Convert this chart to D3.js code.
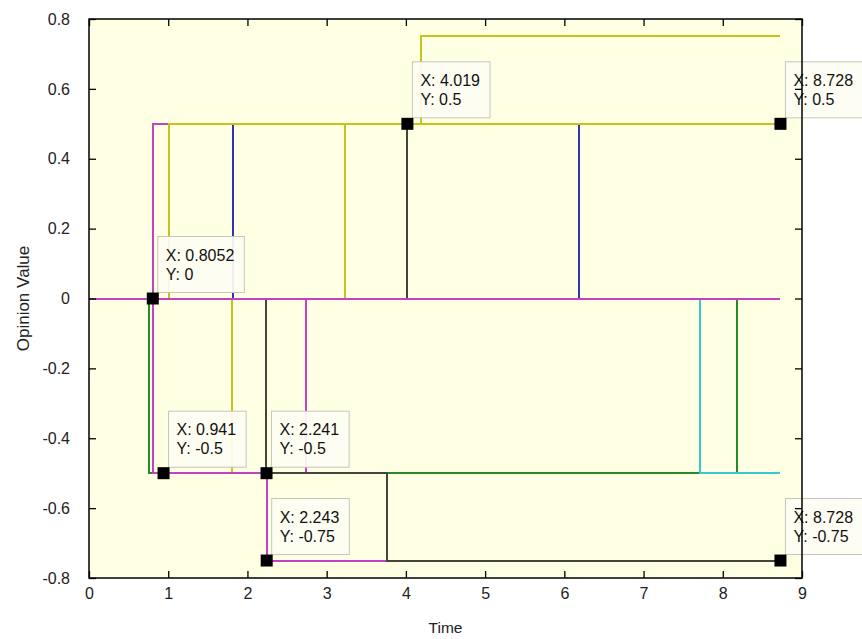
<!DOCTYPE html>
<html>
<head>
<meta charset="utf-8">
<script src="https://cdn.jsdelivr.net/npm/d3@7"></script>
<style>
  body { margin: 0; background: #ffffff; }
  text { font-family: "Liberation Sans", Arial, sans-serif; }
</style>
</head>
<body>
<svg id="chart" width="862" height="639"></svg>
<script>
// ---- data ----
const timeEnd = 8.728;
const xTicks = [0, 1, 2, 3, 4, 5, 6, 7, 8, 9];
const yTicks = [-0.8, -0.6, -0.4, -0.2, 0, 0.2, 0.4, 0.6, 0.8];

// each agent starts at opinions[i][0]; opinions[i][k+1] holds from switchTimes[i][k]
const switchTimes = [
  [1.81],
  [2.74],
  [0.757],
  [0.81, 2.243],
  [2.231, 3.766],
  [8.178],
  [7.715],
  [1.814],
  [4.011],
  [6.19],
  [0.8052],
  [3.232],
  [1.016, 4.188],
  []
];
const opinions = [
  [0, -0.5],
  [0, -0.5],
  [0, -0.5],
  [0, -0.5, -0.75],
  [0, -0.5, -0.75],
  [0, -0.5],
  [0, -0.5],
  [0, 0.5],
  [0, 0.5],
  [0, 0.5],
  [0, 0.5],
  [0, 0.5],
  [0, 0.5, 0.75],
  [0]
];
const agentColorKeys = [
  "yellow", "magenta", "green", "magenta", "gray", "green", "cyan",
  "blue", "gray", "blue", "magenta", "yellow", "yellow", "magenta"
];

// data cursors
const tipX = [0.8052, 0.941, 2.241, 2.243, 4.019, 8.728, 8.728];
const tipY = [0, -0.5, -0.5, -0.75, 0.5, 0.5, -0.75];

// ---- styling ----
const palette = {
  blue: "#3232b4",
  green: "#28882a",
  cyan: "#38caca",
  magenta: "#c342c3",
  yellow: "#c4c41a",
  gray: "#45453a"
};

const W = 862, H = 639;
const margin = { left: 89, top: 19, right: 60, bottom: 61 };
const svg = d3.select("#chart");

const x = d3.scaleLinear().domain([0, 9]).range([margin.left, W - margin.right]);
const y = d3.scaleLinear().domain([-0.8, 0.8]).range([H - margin.bottom, margin.top]);

// plot background
svg.append("rect")
  .attr("x", x(0)).attr("y", y(0.8))
  .attr("width", x(9) - x(0)).attr("height", y(-0.8) - y(0.8))
  .attr("fill", "#ffffe4");

// build step points for each agent
const agents = opinions.map((vals, i) => {
  const pts = [[0, vals[0]]];
  switchTimes[i].forEach((t, k) => pts.push([t, vals[k + 1]]));
  pts.push([timeEnd, vals[vals.length - 1]]);
  return { pts, color: palette[agentColorKeys[i]] };
});

const line = d3.line()
  .x(d => x(d[0]))
  .y(d => y(d[1]))
  .curve(d3.curveStepAfter);

svg.append("g").selectAll("path")
  .data(agents)
  .join("path")
  .attr("d", d => line(d.pts))
  .attr("fill", "none")
  .attr("stroke", d => d.color)
  .attr("stroke-width", 2)
  .attr("shape-rendering", "crispEdges");

// data cursor labels
const tips = tipX.map((tx, i) => ({ tx, ty: tipY[i] }));
const tipG = svg.append("g");
tips.forEach(d => {
  const sx = x(d.tx), sy = y(d.ty);
  const g = tipG.append("g").attr("transform", `translate(${sx + 5},${sy - 62})`);
  const r = g.append("rect").attr("height", 56)
    .attr("fill", "#fdfdf3").attr("fill-opacity", 0.93)
    .attr("stroke", "#c6c6bd").attr("stroke-width", 1);
  const t1 = g.append("text").attr("x", 8).attr("y", 24)
    .attr("font-size", 16).attr("fill", "#111").text(`X: ${d.tx}`);
  g.append("text").attr("x", 8).attr("y", 43)
    .attr("font-size", 16).attr("fill", "#111").text(`Y: ${d.ty}`);
  r.attr("width", t1.node().getComputedTextLength() + 18);
});

// data cursor markers
svg.append("g").selectAll("rect")
  .data(tips)
  .join("rect")
  .attr("x", d => x(d.tx) - 6)
  .attr("y", d => y(d.ty) - 6)
  .attr("width", 12).attr("height", 12)
  .attr("fill", "#000");

// axes (boxed, ticks pointing inward)
const tickLen = 7;
svg.append("g")
  .attr("transform", `translate(0,${y(-0.8)})`)
  .call(d3.axisBottom(x).tickValues(xTicks).tickSize(-tickLen).tickPadding(10).tickFormat(d3.format("d")))
  .call(g => g.select(".domain").remove());
svg.append("g")
  .attr("transform", `translate(0,${y(0.8)})`)
  .call(d3.axisTop(x).tickValues(xTicks).tickSize(-tickLen).tickFormat(""))
  .call(g => g.select(".domain").remove());
svg.append("g")
  .attr("transform", `translate(${x(0)},0)`)
  .call(d3.axisLeft(y).tickValues(yTicks).tickSize(-tickLen).tickPadding(19).tickFormat(d => d === 0 ? "0" : d3.format(".1f")(d).replace("−", "-")))
  .call(g => g.select(".domain").remove());
svg.append("g")
  .attr("transform", `translate(${x(9)},0)`)
  .call(d3.axisRight(y).tickValues(yTicks).tickSize(-tickLen).tickFormat(""))
  .call(g => g.select(".domain").remove());

svg.selectAll(".tick line").attr("stroke", "#000").attr("stroke-width", 1.3);
svg.selectAll(".tick text").attr("font-size", 16).attr("fill", "#222")
  .attr("font-family", "'Liberation Sans', Arial, sans-serif");

svg.append("rect")
  .attr("x", x(0)).attr("y", y(0.8))
  .attr("width", x(9) - x(0)).attr("height", y(-0.8) - y(0.8))
  .attr("fill", "none").attr("stroke", "#000").attr("stroke-width", 1.5);

// axis titles
svg.append("text")
  .attr("x", (x(0) + x(9)) / 2).attr("y", 633)
  .attr("text-anchor", "middle").attr("font-size", 15.5).attr("fill", "#222")
  .text("Time");
svg.append("text")
  .attr("transform", `translate(29,${(y(0.8) + y(-0.8)) / 2}) rotate(-90)`)
  .attr("text-anchor", "middle").attr("font-size", 17).attr("fill", "#222")
  .text("Opinion Value");
</script>
</body>
</html>
